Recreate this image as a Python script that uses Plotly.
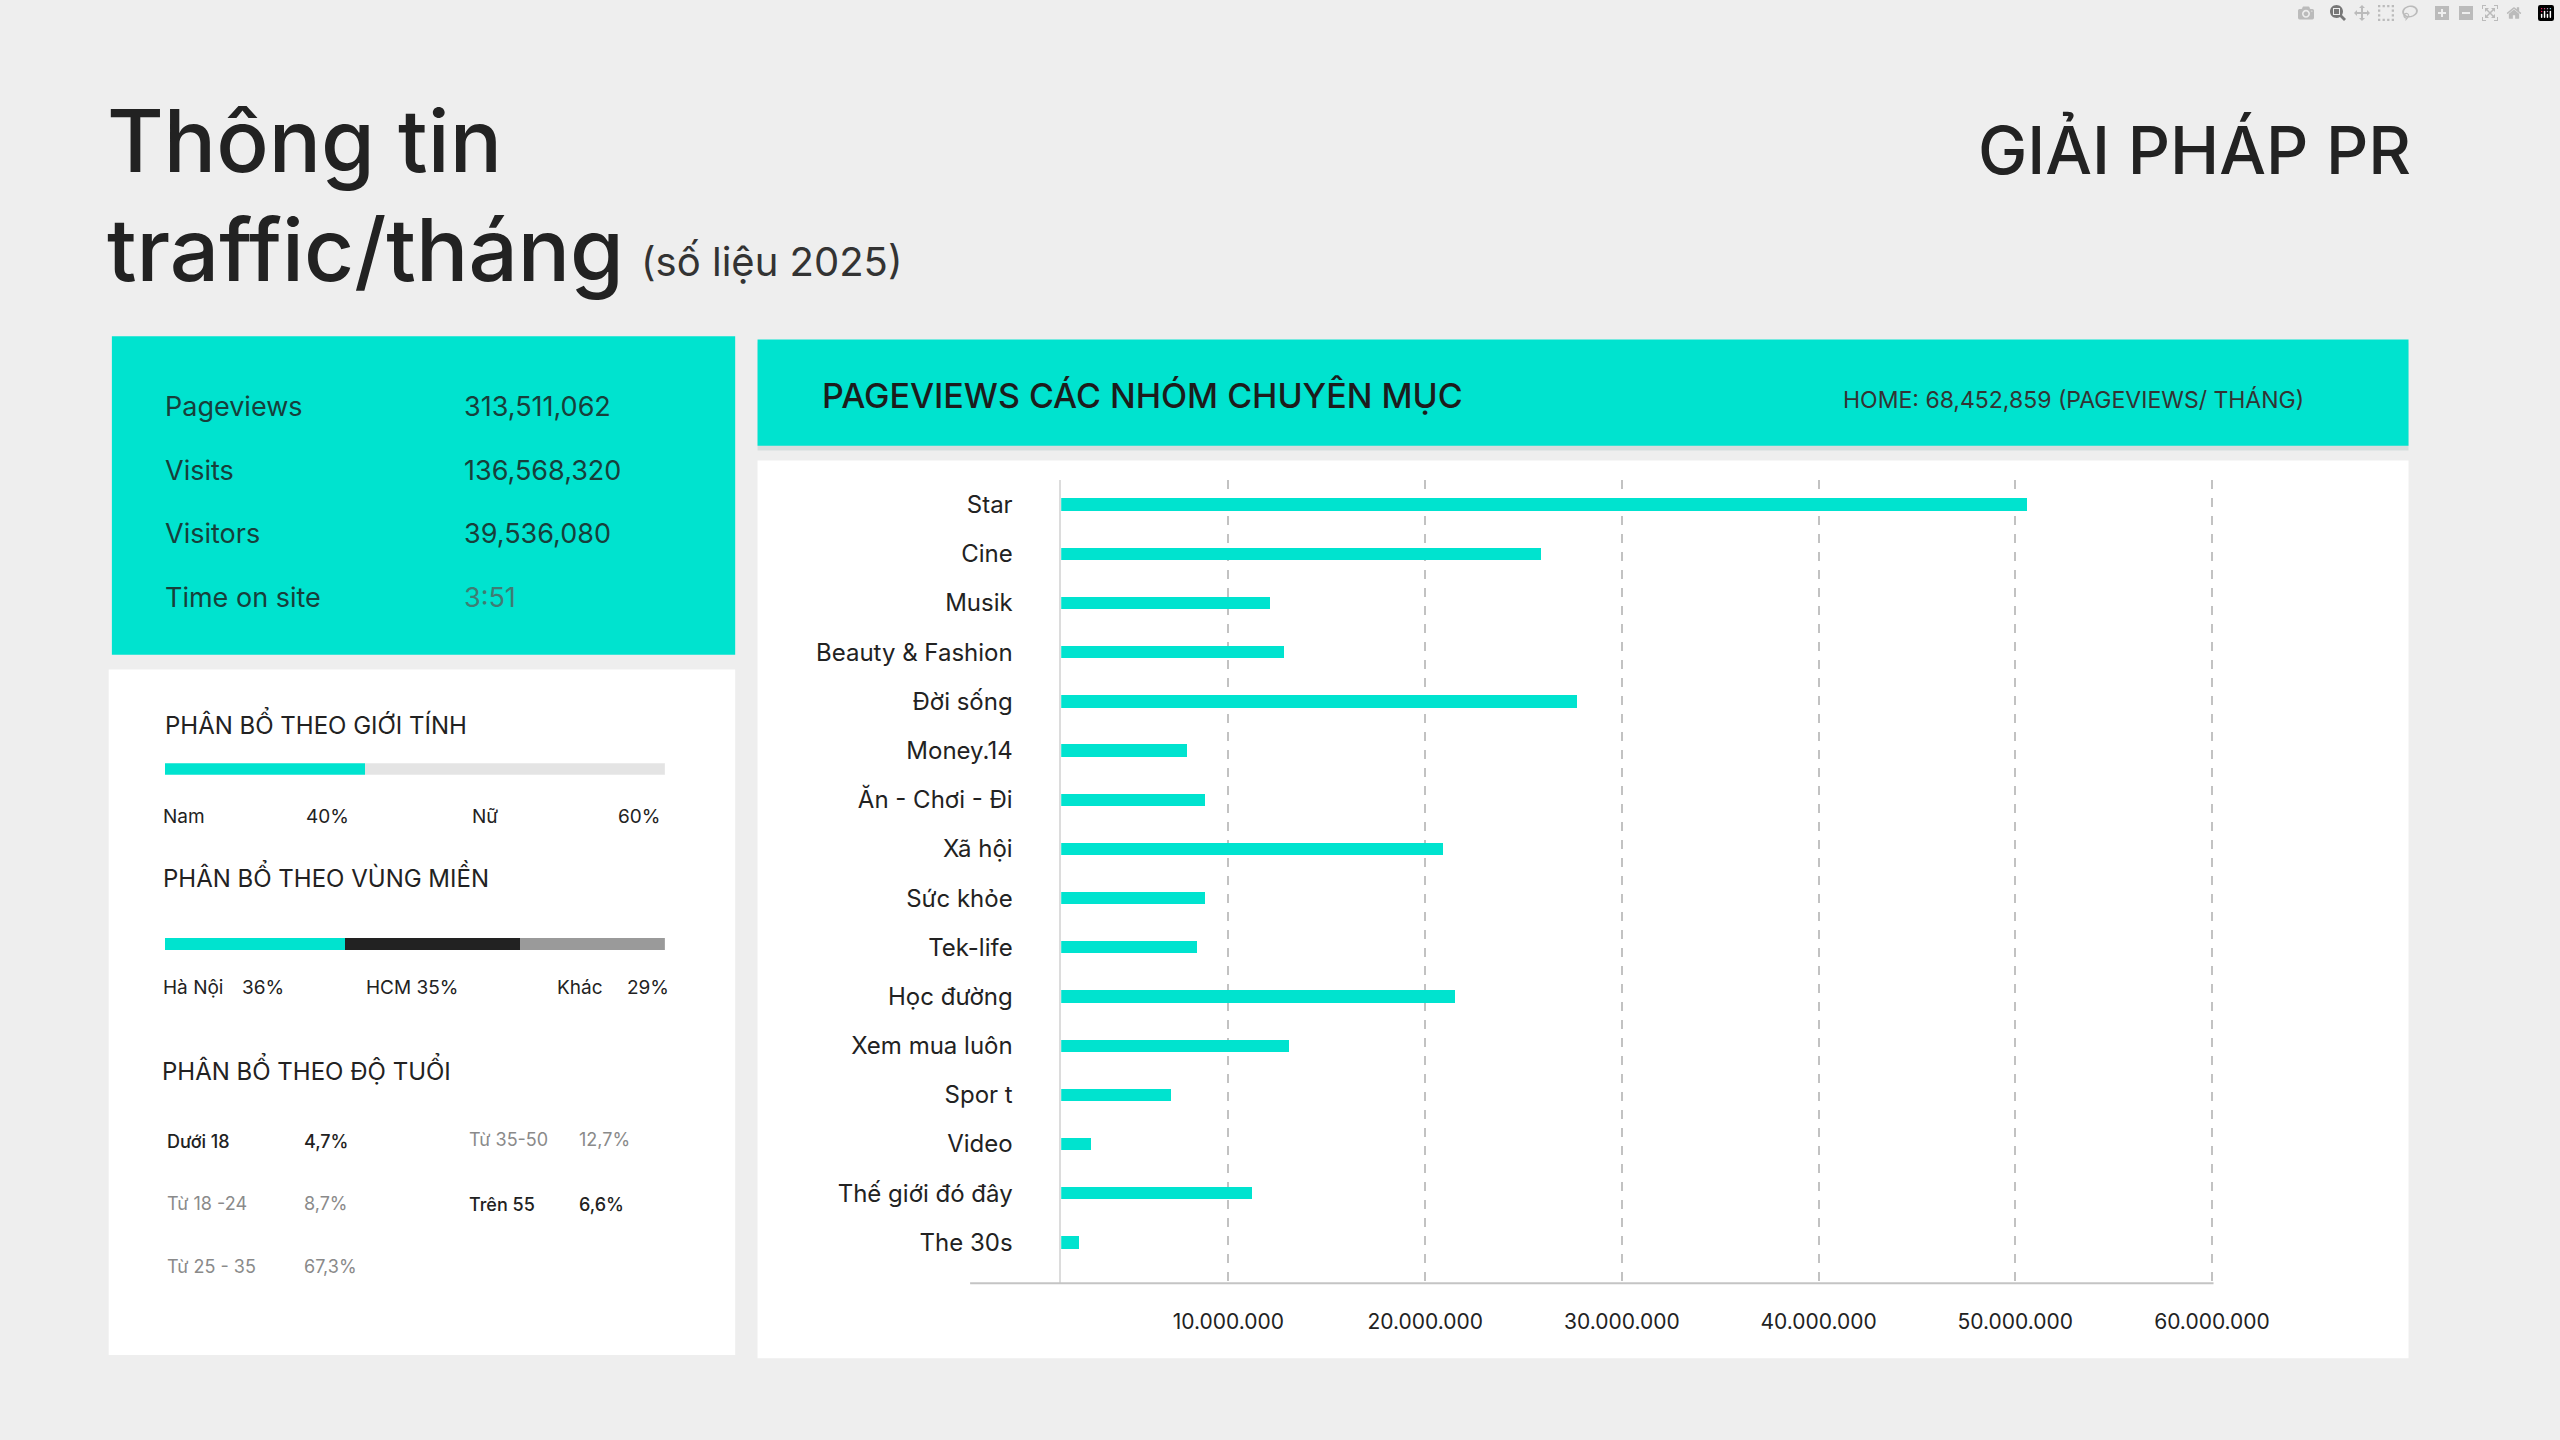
import plotly.graph_objects as go

# ---- data ----
categories = ["Star", "Cine", "Musik", "Beauty & Fashion", "Đời sống", "Money.14",
              "Ăn - Chơi - Đi", "Xã hội", "Sức khỏe", "Tek-life", "Học đường",
              "Xem mua luôn", "Spor t", "Video", "Thế giới đó đây", "The 30s"]
pageviews = [50.6e6, 25.9e6, 12.1e6, 12.8e6, 27.7e6, 7.9e6,
             8.8e6, 20.9e6, 8.8e6, 8.4e6, 21.5e6,
             13.1e6, 7.1e6, 3.0e6, 11.2e6, 2.4e6]
tick_vals = [10e6, 20e6, 30e6, 40e6, 50e6, 60e6]
tick_text = ["10.000.000", "20.000.000", "30.000.000", "40.000.000", "50.000.000", "60.000.000"]

summary_labels = ["Pageviews", "Visits", "Visitors", "Time on site"]
summary_values = ["313,511,062", "136,568,320", "39,536,080", "3:51"]

gender_labels = ["Nam", "Nữ"]
gender_share = [40, 60]
region_labels = ["Hà Nội", "HCM", "Khác"]
region_share = [36, 35, 29]
age_labels = ["Dưới 18", "Từ 18 -24", "Từ 25 - 35", "Từ 35-50", "Trên 55"]
age_share = ["4,7%", "8,7%", "67,3%", "12,7%", "6,6%"]

TEAL = "#00E3CF"
FONT = "Inter, Roboto, sans-serif"
W, H = 1568.0, 882.0  # measured on a scaled copy of the slide


def px(x):
    return x / W


def py(y):
    return 1 - y / H


fig = go.Figure()

# main bar chart
fig.add_trace(go.Bar(
    y=categories, x=pageviews, orientation="h", width=0.25,
    marker=dict(color=TEAL, line=dict(width=0)),
    xaxis="x", yaxis="y", hoverinfo="x+y",
))

# gender split bar
for val, col in zip(gender_share, [TEAL, "#e4e4e4"]):
    fig.add_trace(go.Bar(x=[val], y=[0], orientation="h", width=1,
                         marker=dict(color=col, line=dict(width=0)),
                         xaxis="x2", yaxis="y2"))

# region split bar
for val, col in zip(region_share, [TEAL, "#222222", "#9a9a9a"]):
    fig.add_trace(go.Bar(x=[val], y=[0], orientation="h", width=1,
                         marker=dict(color=col, line=dict(width=0)),
                         xaxis="x3", yaxis="y3"))

shapes = [
    # left teal summary box
    dict(type="rect", xref="paper", yref="paper", x0=px(70), x1=px(460), y0=py(401), y1=py(206),
         fillcolor=TEAL, line=dict(width=0), layer="below"),
    # left white demographics box
    dict(type="rect", xref="paper", yref="paper", x0=px(68), x1=px(460), y0=py(830), y1=py(410),
         fillcolor="white", line=dict(width=0), layer="below"),
    # header shadow + teal header
    dict(type="rect", xref="paper", yref="paper", x0=px(474), x1=px(1507), y0=py(276), y1=py(210),
         fillcolor="#d6dedd", line=dict(width=0), layer="below"),
    dict(type="rect", xref="paper", yref="paper", x0=px(474), x1=px(1507), y0=py(273), y1=py(208),
         fillcolor=TEAL, line=dict(width=0), layer="below"),
    # right white chart panel
    dict(type="rect", xref="paper", yref="paper", x0=px(474), x1=px(1507), y0=py(832), y1=py(282),
         fillcolor="white", line=dict(width=0), layer="below"),
    # bottom axis line (runs past the plot on the left)
    dict(type="line", xref="paper", yref="paper", x0=px(607), x1=px(1385), y0=py(786), y1=py(786),
         line=dict(color="#c4c4c4", width=2)),
]

annotations = []


def text(x, y, s, size, color="#222222", anchor="left", weight=None):
    f = dict(family=FONT, size=size, color=color)
    if weight:
        f["weight"] = weight
    annotations.append(dict(xref="paper", yref="paper", x=px(x), y=py(y), text=s,
                            showarrow=False, xanchor=anchor, yanchor="middle", font=f))


# titles
text(66, 86, "Thông tin", 87, "#222222", weight=500)
text(66, 153, "traffic/tháng", 87, "#222222", weight=500)
text(400, 160, "(số liệu 2025)", 40, "#333333")
text(1510, 92, "GIẢI PHÁP PR", 66, "#222222", anchor="right", weight=500)

# summary box
for i, (lab, val) in enumerate(zip(summary_labels, summary_values)):
    yy = 249 + i * 39
    text(102, yy, lab, 27, "#173f3b")
    text(289, yy, val, 27, "#173f3b" if i < 3 else "#3e7d74")

# demographics
text(102, 443, "PHÂN BỔ THEO GIỚI TÍNH", 24, "#222222")
text(101, 500, gender_labels[0], 19, "#222222")
text(190, 500, f"{gender_share[0]}%", 19, "#222222")
text(294, 500, gender_labels[1], 19, "#222222")
text(414, 500, f"{gender_share[1]}%", 19, "#222222", anchor="right")

text(101, 537, "PHÂN BỔ THEO VÙNG MIỀN", 24, "#222222")
text(101, 605, region_labels[0], 19, "#222222")
text(150, 605, f"{region_share[0]}%", 19, "#222222")
text(228, 605, f"{region_labels[1]} {region_share[1]}%", 19, "#222222")
text(347, 605, region_labels[2], 19, "#222222")
text(420, 605, f"{region_share[2]}%", 19, "#222222", anchor="right")

text(100, 655, "PHÂN BỔ THEO ĐỘ TUỔI", 24, "#222222")
age_pos = [(103, 189, 699), (103, 189, 737), (103, 189, 776), (292, 361, 698), (292, 361, 738)]
age_dark = [True, False, False, False, True]
for lab, val, (xl, xv, yy), dark in zip(age_labels, age_share, age_pos, age_dark):
    col = "#222222" if dark else "#8a8a8a"
    text(xl, yy, lab, 18, col, weight=500 if dark else None)
    text(xv, yy, val, 18, col, weight=500 if dark else None)

# chart header
text(513, 242, "PAGEVIEWS CÁC NHÓM CHUYÊN MỤC", 34, "#1c1c1c", weight=500)
text(1443, 245, "HOME: 68,452,859 (PAGEVIEWS/ THÁNG)", 23, "#333333", anchor="right")

fig.update_layout(
    width=2560, height=1440,
    margin=dict(l=0, r=0, t=0, b=0),
    paper_bgcolor="#eeeeee",
    plot_bgcolor="rgba(0,0,0,0)",
    barmode="stack",
    showlegend=False,
    font=dict(family=FONT, color="#222222"),
    shapes=shapes,
    annotations=annotations,
    xaxis=dict(
        domain=[px(664), px(1386.5)],
        range=[1.5e6, 60.2e6],
        tickvals=tick_vals, ticktext=tick_text,
        showgrid=True, gridcolor="#c2c2c2", griddash="dash", gridwidth=1.5,
        zeroline=False, showline=False, ticks="",
        ticklabelstandoff=24,
        tickfont=dict(family=FONT, size=21, color="#222222"),
    ),
    yaxis=dict(
        domain=[py(786), py(294)],
        type="category",
        range=[15.83, -0.5],
        showgrid=False, zeroline=False,
        showline=True, linecolor="#dcdcdc", linewidth=1.5,
        ticks="", ticklabelstandoff=42,
        tickfont=dict(family=FONT, size=24, color="#222222"),
    ),
    xaxis2=dict(domain=[px(103), px(416)], range=[0, 100], visible=False, fixedrange=True),
    yaxis2=dict(domain=[py(474.5), py(467.5)], range=[-0.5, 0.5], visible=False, fixedrange=True),
    xaxis3=dict(domain=[px(103), px(416)], range=[0, 100], visible=False, fixedrange=True),
    yaxis3=dict(domain=[py(582), py(574.5)], range=[-0.5, 0.5], visible=False, fixedrange=True),
)

# drop the default page margin so the 2560x1440 figure fills the window exactly
fig.write_html("out.html", post_script="document.body.style.margin='0';"
                                       "document.body.style.overflow='hidden';")
